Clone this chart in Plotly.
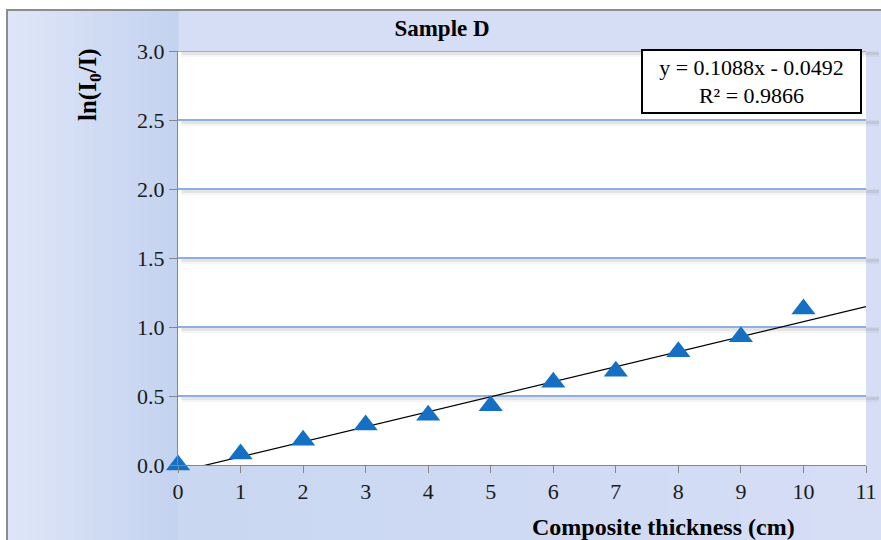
import plotly.graph_objects as go

# ---- data ----
thickness_cm = [0, 1, 2, 3, 4, 5, 6, 7, 8, 9, 10]
ln_ratio = [0.00, 0.08, 0.18, 0.29, 0.36, 0.43, 0.60, 0.68, 0.82, 0.93, 1.13]
trend_slope = 0.1088
trend_intercept = -0.0492
trend_r2 = 0.9866
trend_x = [0, 11]
y_ticks = [0.0, 0.5, 1.0, 1.5, 2.0, 2.5, 3.0]
x_ticks = list(range(0, 12))

# ---- layout geometry (pixels) ----
W, H = 881, 540
L, R, T, B = 178, 15, 51, 75
pw, ph = W - L - R, H - T - B


def px_x(px):
    return (px - L) / pw


def px_y(py):
    return (H - B - py) / ph


FONT = "Liberation Serif, Times New Roman, serif"

fig = go.Figure()

trend_y = [trend_slope * x + trend_intercept for x in trend_x]
fig.add_trace(go.Scatter(x=trend_x, y=trend_y, mode="lines",
                         line=dict(color="black", width=1.2),
                         hoverinfo="skip", showlegend=False))
fig.add_trace(go.Scatter(x=thickness_cm, y=ln_ratio, mode="markers",
                         marker=dict(symbol="triangle-up", size=21,
                                     color="#1570c4"),
                         cliponaxis=False, showlegend=False))

shapes = []
# frame background
shapes.append(dict(type="rect", xref="paper", yref="paper", layer="below",
                   x0=px_x(7), x1=px_x(900), y0=px_y(560), y1=px_y(10),
                   fillcolor="#d5def5", line=dict(color="#8c8c8c", width=2)))


def lerp(c1, c2, t):
    return "rgb(%d,%d,%d)" % tuple(round(a + (b - a) * t) for a, b in zip(c1, c2))


c_left = (222, 229, 247)
c_right = (196, 211, 240)
n = 18
x_start, x_end = 8, 178
for i in range(n):
    a = x_start + (x_end - x_start) * i / n
    b = x_start + (x_end - x_start) * (i + 1) / n
    shapes.append(dict(type="rect", xref="paper", yref="paper", layer="below",
                       x0=px_x(a), x1=px_x(b + 0.6), y0=px_y(560), y1=px_y(11),
                       fillcolor=lerp(c_left, c_right, i / (n - 1)),
                       line=dict(width=0)))
# bottom band under plot
for i in range(10):
    a = 178 + (881 - 178) * i / 10
    b = 178 + (881 - 178) * (i + 1) / 10
    shapes.append(dict(type="rect", xref="paper", yref="paper", layer="below",
                       x0=px_x(a), x1=px_x(b + 0.6), y0=px_y(560), y1=px_y(465),
                       fillcolor=lerp((201, 215, 241), (213, 222, 245), i / 9),
                       line=dict(width=0)))
# white plot area
shapes.append(dict(type="rect", xref="paper", yref="paper", layer="below",
                   x0=0, x1=1, y0=0, y1=1, fillcolor="white", line=dict(width=0)))
# gridlines with soft shadow
for yv in y_ticks[1:]:
    for off, w, op in [(3, 6, 0.06), (2.5, 3, 0.10)]:
        shapes.append(dict(type="line", xref="paper", yref="y", layer="below",
                           x0=0.005, x1=px_x(879), y0=yv - off / (ph / 3.0),
                           y1=yv - off / (ph / 3.0),
                           line=dict(color="rgba(80,80,80,%s)" % op, width=w)))
    shapes.append(dict(type="line", xref="paper", yref="y", layer="below",
                       x0=0, x1=1, y0=yv, y1=yv,
                       line=dict(color="#8eaee4", width=2)))

annotations = [
    dict(text="<b>ln(I<sub>0</sub>/I)</b>", textangle=-90, xref="paper", yref="paper",
         x=px_x(89), y=px_y(85), showarrow=False, xanchor="center", yanchor="middle",
         font=dict(family=FONT, size=25, color="black")),
    dict(text="<b>Composite thickness (cm)</b>", xref="paper", yref="paper",
         x=px_x(663), y=px_y(527), showarrow=False, xanchor="center", yanchor="middle",
         font=dict(family=FONT, size=24, color="black")),
    dict(text="y = %.4fx - %.4f<br>R² = %.4f" % (trend_slope, -trend_intercept, trend_r2),
         xref="paper", yref="paper", x=px_x(751.5), y=px_y(81.5),
         xanchor="center", yanchor="middle", showarrow=False, align="center",
         width=217, height=61, bgcolor="white", bordercolor="black", borderwidth=2,
         borderpad=0, font=dict(family=FONT, size=22, color="black")),
]

fig.update_layout(
    width=W, height=H, autosize=False,
    margin=dict(l=L, r=R, t=T, b=B, autoexpand=False),
    paper_bgcolor="white", plot_bgcolor="rgba(0,0,0,0)",
    title=dict(text="<b>Sample D</b>", x=442 / W, xanchor="center",
               y=1 - 28 / H, yanchor="middle",
               font=dict(family=FONT, size=23, color="black")),
    shapes=shapes, annotations=annotations,
    xaxis=dict(range=[0, 11], tickvals=x_ticks, showgrid=False, zeroline=False,
               automargin=False,
               showline=True, linecolor="#868686", linewidth=1,
               ticks="outside", ticklen=7, tickcolor="#868686",
               tickfont=dict(family=FONT, size=22, color="#1a1a1a")),
    yaxis=dict(range=[0, 3], tickvals=y_ticks, tickformat=".1f", showgrid=False,
               automargin=False,
               zeroline=False, showline=True, linecolor="#868686", linewidth=1,
               ticks="outside", ticklen=8, tickcolor="#868686",
               tickfont=dict(family=FONT, size=22, color="#1a1a1a")),
    showlegend=False,
)

fig.write_html(
    "out.html",
    config={"displayModeBar": False},
    post_script="document.body.style.margin='0';document.body.style.overflow='hidden';",
)
